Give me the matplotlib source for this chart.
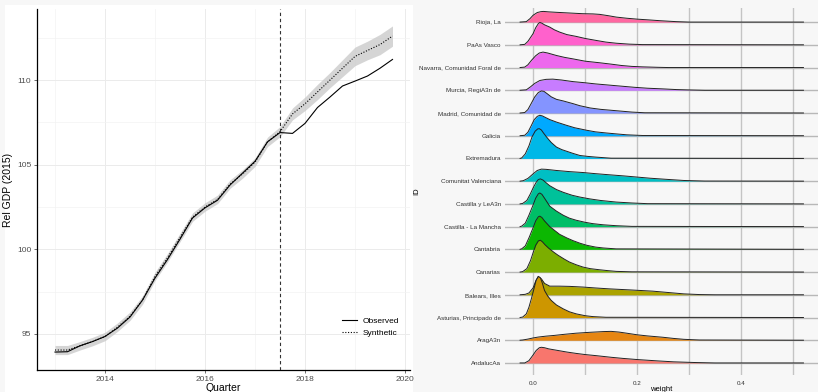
import math
import numpy as np
import matplotlib
matplotlib.use('Agg')
import matplotlib.pyplot as plt
from matplotlib.lines import Line2D
from matplotlib.patches import Rectangle

plt.rcParams['font.family'] = ['Liberation Sans', 'DejaVu Sans']

# ------------------------------------------------------------------------
# GDP series (quarterly, 2013Q1 - 2019Q4), index 2015 = 100
quarters = [2013.00, 2013.25, 2013.50, 2013.75, 2014.00, 2014.25, 2014.50, 2014.75,
            2015.00, 2015.25, 2015.50, 2015.75, 2016.00, 2016.25, 2016.50, 2016.75,
            2017.00, 2017.25, 2017.50, 2017.75, 2018.00, 2018.25, 2018.50, 2018.75,
            2019.00, 2019.25, 2019.50, 2019.75]
observed = [93.93, 93.95, 94.30, 94.55, 94.85, 95.35, 96.00, 97.00,
            98.30, 99.40, 100.60, 101.85, 102.45, 102.90, 103.80, 104.50,
            105.20, 106.35, 106.90, 106.85, 107.44, 108.38, 109.00, 109.65,
            109.94, 110.24, 110.70, 111.22]
synthetic = [94.05, 94.05, 94.30, 94.55, 94.85, 95.40, 96.05, 97.00,
             98.40, 99.50, 100.70, 101.90, 102.50, 102.95, 103.85, 104.45,
             105.15, 106.35, 106.95, 108.00, 108.60, 109.30, 110.00, 110.70,
             111.40, 111.75, 112.10, 112.60]
band_half = [0.27, 0.27, 0.25, 0.25, 0.25, 0.25, 0.25, 0.25,
             0.25, 0.25, 0.25, 0.25, 0.25, 0.25, 0.25, 0.25,
             0.25, 0.28, 0.30, 0.35, 0.40, 0.45, 0.45, 0.50,
             0.55, 0.55, 0.60, 0.60]
treatment_date = 2017.5

# ------------------------------------------------------------------------
# Donor weight densities per region (bottom to top)
regions = ['AndalucAa', 'AragA3n', 'Asturias, Principado de', 'Balears, Illes',
           'Canarias', 'Cantabria', 'Castilla - La Mancha', 'Castilla y LeA3n',
           'Comunitat Valenciana', 'Extremadura', 'Galicia', 'Madrid, Comunidad de',
           'Murcia, RegiA3n de', 'Navarra, Comunidad Foral de', 'PaAs Vasco', 'Rioja, La']

ridge_x = [
    [-0.025, -0.016, -0.008, 0.0, 0.006, 0.012, 0.016, 0.022, 0.03, 0.045, 0.065, 0.083, 0.1, 0.122, 0.15, 0.173, 0.2, 0.24, 0.27, 0.31, 0.35, 0.52],
    [-0.025, -0.02, -0.01, 0.0, 0.01, 0.025, 0.04, 0.06, 0.083, 0.11, 0.135, 0.15, 0.165, 0.18, 0.2, 0.22, 0.25, 0.27, 0.29, 0.32, 0.52],
    [-0.025, -0.02, -0.013, -0.008, -0.003, 0.002, 0.006, 0.010, 0.014, 0.018, 0.022, 0.028, 0.035, 0.045, 0.058, 0.07, 0.083, 0.1, 0.115, 0.14, 0.52],
    [-0.025, -0.015, -0.008, 0.0, 0.005, 0.01, 0.016, 0.022, 0.032, 0.05, 0.07, 0.096, 0.12, 0.147, 0.19, 0.23, 0.26, 0.29, 0.32, 0.35, 0.52],
    [-0.025, -0.02, -0.012, -0.005, 0.0, 0.005, 0.01, 0.014, 0.018, 0.023, 0.03, 0.04, 0.048, 0.06, 0.07, 0.083, 0.096, 0.11, 0.128, 0.145, 0.16, 0.19, 0.52],
    [-0.025, -0.022, -0.015, -0.008, 0.0, 0.005, 0.01, 0.013, 0.017, 0.022, 0.032, 0.042, 0.051, 0.065, 0.077, 0.09, 0.103, 0.12, 0.135, 0.16, 0.52],
    [-0.025, -0.022, -0.015, -0.008, 0.0, 0.005, 0.01, 0.013, 0.017, 0.022, 0.032, 0.045, 0.058, 0.07, 0.083, 0.1, 0.115, 0.135, 0.16, 0.19, 0.52],
    [-0.025, -0.02, -0.012, -0.005, 0.0, 0.006, 0.01, 0.014, 0.019, 0.025, 0.032, 0.045, 0.058, 0.075, 0.09, 0.109, 0.13, 0.16, 0.19, 0.22, 0.52],
    [-0.025, -0.019, -0.01, 0.0, 0.008, 0.016, 0.025, 0.045, 0.07, 0.096, 0.12, 0.147, 0.175, 0.2, 0.225, 0.25, 0.27, 0.29, 0.33, 0.52],
    [-0.025, -0.022, -0.015, -0.008, -0.002, 0.004, 0.009, 0.012, 0.016, 0.02, 0.026, 0.035, 0.045, 0.055, 0.064, 0.077, 0.09, 0.105, 0.12, 0.15, 0.52],
    [-0.025, -0.016, -0.01, -0.004, 0.002, 0.008, 0.013, 0.018, 0.024, 0.032, 0.045, 0.064, 0.08, 0.103, 0.12, 0.141, 0.16, 0.18, 0.21, 0.52],
    [-0.025, -0.016, -0.01, -0.004, 0.003, 0.01, 0.016, 0.021, 0.027, 0.035, 0.045, 0.058, 0.077, 0.09, 0.11, 0.13, 0.15, 0.17, 0.19, 0.215, 0.52],
    [-0.025, -0.013, -0.005, 0.003, 0.013, 0.025, 0.038, 0.055, 0.077, 0.1, 0.12, 0.145, 0.17, 0.195, 0.22, 0.25, 0.276, 0.3, 0.33, 0.52],
    [-0.025, -0.016, -0.01, -0.003, 0.005, 0.012, 0.019, 0.028, 0.045, 0.06, 0.077, 0.1, 0.128, 0.15, 0.17, 0.19, 0.21, 0.24, 0.26, 0.52],
    [-0.025, -0.016, -0.01, -0.005, 0.0, 0.005, 0.01, 0.013, 0.017, 0.022, 0.032, 0.041, 0.051, 0.065, 0.083, 0.1, 0.122, 0.14, 0.16, 0.185, 0.21, 0.52],
    [-0.025, -0.013, -0.006, 0.0, 0.008, 0.015, 0.02, 0.03, 0.045, 0.07, 0.095, 0.115, 0.128, 0.145, 0.16, 0.18, 0.2, 0.22, 0.245, 0.275, 0.3, 0.52],
]
ridge_h = [
    [0, 0, 0.1, 0.35, 0.55, 0.67, 0.69, 0.67, 0.62, 0.56, 0.48, 0.42, 0.37, 0.32, 0.25, 0.2, 0.15, 0.09, 0.05, 0.02, 0.0, 0],
    [0, 0.01, 0.05, 0.1, 0.14, 0.18, 0.21, 0.26, 0.31, 0.35, 0.38, 0.39, 0.36, 0.31, 0.24, 0.19, 0.13, 0.08, 0.04, 0.01, 0],
    [0, 0.02, 0.16, 0.45, 0.85, 1.3, 1.65, 1.81, 1.75, 1.5, 1.19, 0.95, 0.75, 0.55, 0.38, 0.25, 0.16, 0.08, 0.04, 0.01, 0],
    [0, 0.02, 0.08, 0.3, 0.6, 0.8, 0.7, 0.5, 0.38, 0.38, 0.37, 0.34, 0.3, 0.26, 0.21, 0.16, 0.1, 0.04, 0.01, 0, 0],
    [0, 0.02, 0.15, 0.5, 0.85, 1.18, 1.37, 1.4, 1.33, 1.2, 1.05, 0.87, 0.74, 0.57, 0.44, 0.32, 0.22, 0.15, 0.1, 0.06, 0.03, 0.01, 0],
    [0, 0.02, 0.15, 0.5, 0.95, 1.25, 1.43, 1.46, 1.4, 1.25, 1.0, 0.82, 0.66, 0.5, 0.38, 0.27, 0.18, 0.1, 0.06, 0.02, 0],
    [0, 0.02, 0.15, 0.5, 0.95, 1.25, 1.44, 1.48, 1.42, 1.25, 0.9, 0.68, 0.5, 0.37, 0.28, 0.19, 0.13, 0.08, 0.04, 0.01, 0],
    [0, 0.02, 0.15, 0.45, 0.7, 0.95, 1.07, 1.1, 1.05, 0.93, 0.8, 0.63, 0.51, 0.38, 0.3, 0.22, 0.15, 0.08, 0.04, 0.01, 0],
    [0, 0.02, 0.12, 0.32, 0.47, 0.53, 0.52, 0.47, 0.42, 0.38, 0.33, 0.28, 0.23, 0.18, 0.13, 0.09, 0.06, 0.03, 0.005, 0],
    [0, 0.02, 0.2, 0.55, 0.95, 1.2, 1.3, 1.31, 1.25, 1.12, 0.94, 0.7, 0.5, 0.39, 0.32, 0.22, 0.13, 0.09, 0.06, 0.01, 0],
    [0, 0.02, 0.15, 0.42, 0.7, 0.85, 0.9, 0.87, 0.8, 0.71, 0.6, 0.46, 0.35, 0.24, 0.17, 0.12, 0.08, 0.04, 0.01, 0],
    [0, 0.02, 0.15, 0.4, 0.7, 0.9, 0.97, 0.95, 0.85, 0.71, 0.6, 0.53, 0.41, 0.32, 0.22, 0.16, 0.12, 0.08, 0.04, 0.01, 0],
    [0, 0.02, 0.15, 0.3, 0.43, 0.48, 0.49, 0.45, 0.38, 0.33, 0.28, 0.23, 0.18, 0.13, 0.09, 0.06, 0.03, 0.015, 0.0, 0],
    [0, 0.02, 0.12, 0.32, 0.52, 0.64, 0.68, 0.64, 0.53, 0.45, 0.38, 0.28, 0.21, 0.15, 0.09, 0.05, 0.03, 0.01, 0, 0],
    [0, 0.02, 0.15, 0.32, 0.49, 0.75, 0.93, 0.985, 0.95, 0.88, 0.78, 0.66, 0.56, 0.45, 0.37, 0.28, 0.19, 0.12, 0.07, 0.03, 0.01, 0],
    [0, 0.02, 0.15, 0.3, 0.42, 0.46, 0.47, 0.45, 0.43, 0.4, 0.37, 0.36, 0.34, 0.28, 0.22, 0.17, 0.13, 0.1, 0.06, 0.02, 0.0, 0],
]


def hcl_hex(h, c=100.0, l=65.0):
    # polar LUV -> sRGB (D65), same as R's hcl()
    hr = math.radians(h)
    u, v = c * math.cos(hr), c * math.sin(hr)
    xn, yn, zn = 95.047, 100.0, 108.883
    y = yn * ((l + 16) / 116) ** 3
    un = 4 * xn / (xn + 15 * yn + 3 * zn)
    vn = 9 * yn / (xn + 15 * yn + 3 * zn)
    up = u / (13 * l) + un
    vp = v / (13 * l) + vn
    x = 9 * y * up / (4 * vp)
    z = (9 * y - 15 * vp * y - vp * x) / (3 * vp)
    x, y, z = x / 100, y / 100, z / 100
    rgb = [3.240479 * x - 1.537150 * y - 0.498535 * z,
           -0.969256 * x + 1.875992 * y + 0.041556 * z,
           0.055648 * x - 0.204043 * y + 1.057311 * z]
    out = []
    for t in rgb:
        t = 1.055 * t ** (1 / 2.4) - 0.055 if t > 0.00304 else 12.92 * t
        out.append(min(max(t, 0.0), 1.0))
    return tuple(out)


n = len(regions)
colors = [hcl_hex(15 + 360.0 / n * k) for k in range(n)]

fig = plt.figure(figsize=(8.18, 3.92), dpi=100)
fig.patch.set_facecolor('#f7f7f7')
# white background behind the left panel
fig.patches.append(Rectangle((5 / 818, 0), 408 / 818, 387 / 392, transform=fig.transFigure,
                             facecolor='white', edgecolor='none', zorder=-10))

# ---------------------------------------------------------------- left panel
ax1 = fig.add_axes([37 / 818, 22 / 392, 373 / 818, 361 / 392])
ax1.set_facecolor('white')
lo = [s - b for s, b in zip(synthetic, band_half)]
hi = [s + b for s, b in zip(synthetic, band_half)]
ax1.fill_between(quarters, lo, hi, color='#c8c8c8', alpha=0.75, linewidth=0, zorder=2)
ax1.plot(quarters, observed, color='black', linewidth=0.8, zorder=3)
ax1.plot(quarters, synthetic, color='black', linewidth=0.8, linestyle=(0, (1, 1.5)), zorder=3)
ax1.axvline(treatment_date, color='#333333', linewidth=0.8, linestyle=(0, (3, 2.5)), zorder=3)

ax1.set_xlim(2012.64, 2020.1)
ax1.set_ylim(92.87, 114.2)
ax1.set_xticks([2014, 2016, 2018, 2020])
ax1.set_xticks([2013, 2015, 2017, 2019], minor=True)
ax1.set_yticks([95, 100, 105, 110])
ax1.set_yticks([97.5, 102.5, 107.5, 112.5], minor=True)
ax1.grid(which='major', color='#ebebeb', linewidth=0.7, zorder=0)
ax1.grid(which='minor', color='#f3f3f3', linewidth=0.5, zorder=0)
ax1.set_axisbelow(True)
for side in ['top', 'right']:
    ax1.spines[side].set_visible(False)
for side in ['left', 'bottom']:
    ax1.spines[side].set_color('black')
    ax1.spines[side].set_linewidth(0.9)
ax1.tick_params(which='major', length=2, width=0.5, color='#333333', labelsize=6,
                labelcolor='#4d4d4d', pad=2)
ax1.tick_params(which='minor', length=0)
ax1.set_xlabel('Quarter', fontsize=7.5, labelpad=0)
ax1.set_ylabel('Rel GDP (2015)', fontsize=7.5, labelpad=3)

handles = [Line2D([], [], color='black', linewidth=0.8),
           Line2D([], [], color='black', linewidth=0.8, linestyle=(0, (1, 1.5)))]
ax1.legend(handles, ['Observed', 'Synthetic'], loc='lower right', frameon=False,
           fontsize=6, handlelength=1.8, handletextpad=0.6, labelspacing=0.5,
           bbox_to_anchor=(0.99, 0.07))

# --------------------------------------------------------------- right panel
ax2 = fig.add_axes([505 / 818, 17 / 392, 313 / 818, 367 / 392])
ax2.set_facecolor('#f7f7f7')
for xg in [0.0, 0.1, 0.2, 0.3, 0.4, 0.5]:
    ax2.axvline(xg, color='#c4c4c4', linewidth=1.0, zorder=0)
for i in range(n):
    ax2.axhline(i, color='#b8b8b8', linewidth=1.0, zorder=0)

# upper ridges first so the lower ones sit in front
for i in range(n - 1, -1, -1):
    xs = np.array(ridge_x[i])
    top = i + np.array(ridge_h[i])
    z = 2 * (n - i) + 1
    ax2.fill_between(xs, i, top, color=colors[i], linewidth=0, zorder=z)
    ax2.plot(xs, top, color='#222222', linewidth=0.7, zorder=z + 0.5)

ax2.set_xlim(-0.054, 0.548)
ax2.set_ylim(-0.53, 15.62)
ax2.set_xticks([0.0, 0.2, 0.4])
ax2.set_xticklabels(['0.0', '0.2', '0.4'])
ax2.set_yticks(range(n))
ax2.set_yticklabels(regions)
ax2.tick_params(axis='both', length=0, labelsize=4.5, labelcolor='#333333')
ax2.tick_params(axis='y', pad=3)
ax2.tick_params(axis='x', pad=4)
for side in ax2.spines:
    ax2.spines[side].set_visible(False)
ax2.set_xlabel('weight', fontsize=5.5, labelpad=0)
ax2.set_ylabel('ID', fontsize=5.5)
ax2.yaxis.set_label_coords(-0.272, 0.5)

fig.savefig('out.png', dpi=100, facecolor=fig.get_facecolor())
